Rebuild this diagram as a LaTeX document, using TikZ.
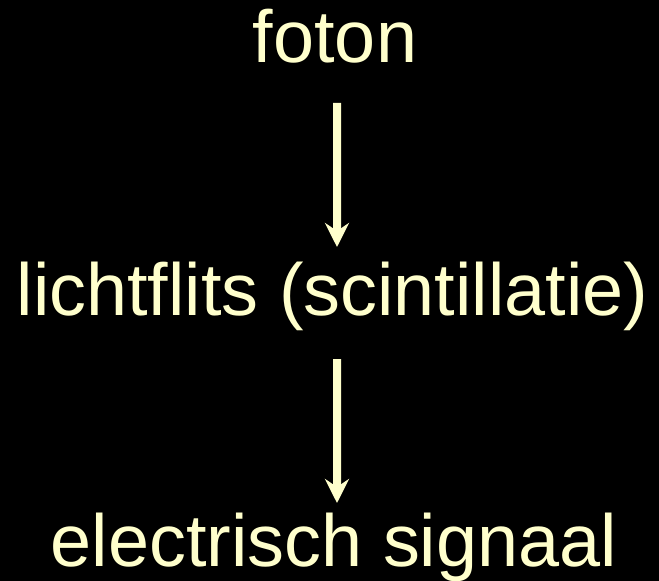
\documentclass[tikz,border=0pt]{standalone}
\usepackage{fontspec}
\setmainfont{Liberation Sans}
\usetikzlibrary{arrows.meta,calc}
\definecolor{lightyel}{HTML}{FFFFCC}
\begin{document}
\begin{tikzpicture}[x=1bp,y=-1bp,
  label/.style={text=lightyel,inner sep=0pt,anchor=base,font=\fontsize{73.8bp}{80bp}\selectfont},
  flow/.style={draw=lightyel,line width=8bp,-{Stealth[length=24bp,width=24bp,inset=8bp]}}]
  \fill[black] (0,0) rectangle (659,581);
  \useasboundingbox (0,0) rectangle (659,581);
  \node[label] (a) at (335,63) {foton};
  \node[label] (b) at (332.5,315) {lichtflits (scintillatie)};
  \node[label] (c) at (334,566) {electrisch signaal};
  \draw[flow] ($(a.base)+(2,40)$) -- ($(b.base)+(4.5,-68)$);
  \draw[flow] ($(b.base)+(4.5,44)$) -- ($(c.base)+(3,-63)$);
\end{tikzpicture}
\end{document}
